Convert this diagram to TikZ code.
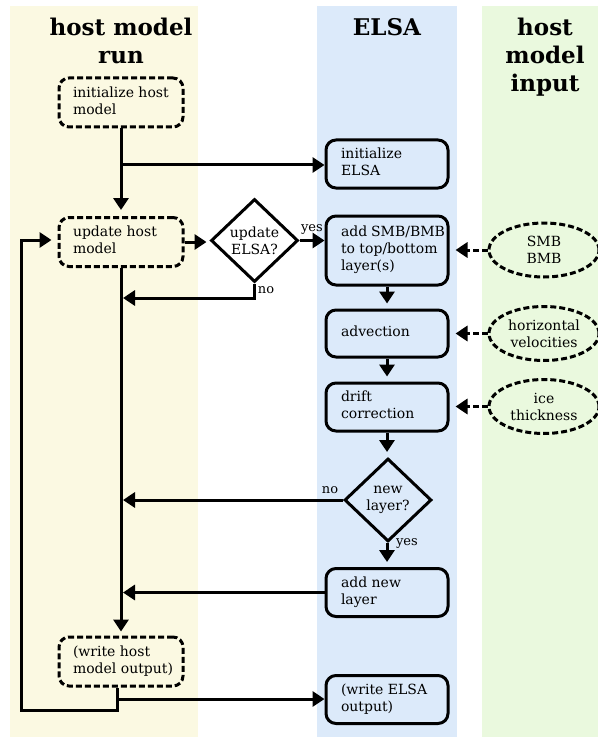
\documentclass[tikz,border=0pt]{standalone}
\usepackage{fontspec}
\setmainfont{DejaVu Serif}
\usetikzlibrary{shapes.geometric,arrows.meta}
\definecolor{bandY}{RGB}{251,249,226}
\definecolor{bandB}{RGB}{220,234,250}
\definecolor{bandG}{RGB}{234,249,222}
\newcommand{\htext}[1]{\begin{tabular}{@{\hspace{14pt}}p{100pt}@{\hspace{10pt}}}#1\end{tabular}}
\newcommand{\etext}[1]{\begin{tabular}{@{\hspace{15pt}}p{104pt}@{\hspace{3pt}}}#1\end{tabular}}
\tikzset{
  bodyfont/.style={font=\fontsize{14}{17}\selectfont},
  hdr/.style={font=\bfseries\fontsize{23}{28}\selectfont, align=center, inner sep=0pt},
  hostbox/.style={draw, dash pattern=on 6pt off 3pt, rounded corners=10pt, line width=3pt,
    minimum height=49pt, inner sep=0pt, fill=bandY, bodyfont},
  elsabox/.style={draw, rounded corners=10pt, line width=3pt,
    minimum height=48pt, inner sep=0pt, fill=bandB, bodyfont},
  decision/.style={diamond, draw, line width=3pt, minimum width=87pt, minimum height=83pt,
    inner sep=0pt, align=center, fill=bandB, bodyfont},
  inputell/.style={ellipse, draw, dash pattern=on 6pt off 3pt, line width=3pt,
    minimum width=110pt, minimum height=54pt, inner sep=0pt, align=center, fill=bandG, bodyfont},
  flow/.style={line width=3pt, -{Triangle[length=12pt,width=15pt]}},
  dflow/.style={flow, dash pattern=on 6pt off 3pt, shorten >=6pt},
  lbl/.style={font=\fontsize{13}{15}\selectfont, inner sep=1pt},
}
\begin{document}
\begin{tikzpicture}[x=1pt,y=-1pt]
\useasboundingbox (0,0) rectangle (597,738);
\fill[bandY] (10,6) rectangle (198,737);
\fill[bandB] (317,6) rectangle (457,737);
\fill[bandG] (482,6) rectangle (600,737);

\node[hdr, anchor=north] (hhost) at (121,18) {host model\\run};
\node[hdr, anchor=north] (helsa) at (387,18) {ELSA};
\node[hdr, anchor=north] (hinput) at (545,18) {host\\model\\input};

\node[hostbox] (hinit) at (121,102.5) {\htext{initialize host\\model}};
\node[hostbox] (hupd) at (121,242) {\htext{update host\\model}};
\node[hostbox] (hout) at (121,661.5) {\htext{(write host\\model output)}};

\node[elsabox] (einit) at (387,164) {\etext{initialize\\ELSA}};
\node[elsabox, minimum height=69pt] (esmb) at (387,250.5) {\etext{add SMB/BMB\\to top/bottom\\layer(s)}};
\node[elsabox, minimum height=47pt] (eadv) at (387,333.5) {\etext{advection}};
\node[elsabox] (edrift) at (387,407) {\etext{drift\\correction}};
\node[decision] (dnew) at (388,500) {new\\layer?};
\node[elsabox] (eadd) at (387,592.5) {\etext{add new\\layer}};
\node[elsabox] (eout) at (387,699.5) {\etext{(write ELSA\\output)}};

\node[decision, fill=white] (dupd) at (254.5,240.5) {update\\ELSA?};

\node[inputell] (ismb) at (544,250) {SMB\\BMB};
\node[inputell] (ivel) at (544,333.5) {horizontal\\velocities};
\node[inputell] (ithk) at (544,406.5) {ice\\thickness};

\coordinate (vx) at (123,0);
\coordinate (br1) at (121,165);
\coordinate (no1) at (254.5,298);
\coordinate (o1) at (117,699);
\coordinate (o2) at (117,710);
\coordinate (o3) at (21,710);
\coordinate (o4) at (21,240);

\draw[flow, shorten >=6pt] (hinit.south) -- (hupd.north);
\draw[flow] (br1) -- (br1 -| einit.west);
\draw[flow, shorten >=3pt] (hupd.east) -- (hupd.east -| dupd.west);
\draw[flow] (dupd.east) -- (dupd.east -| esmb.west)
  node[lbl, midway, above=4pt] (lyes1) {yes};
\draw[flow] (dupd.south) -- (no1) -- (no1 -| vx);
\node[lbl] (lno1) at (266,290) {no};
\draw[flow, shorten >=4pt] (hupd.south) -- (hout.north);

\draw[flow, shorten >=5pt] (esmb.south) -- (eadv.north);
\draw[flow, shorten >=5pt] (eadv.south) -- (edrift.north);
\draw[flow, shorten >=5pt] (edrift.south) -- (edrift.south |- dnew.north);
\draw[flow, shorten >=5pt] (dnew.south -| edrift.south) -- (eadd.north);
\node[lbl] (lyes2) at (407,543) {yes};
\draw[flow] (dnew.west) -- (dnew.west -| vx);
\node[lbl] (lno2) at (330,490) {no};
\draw[flow] (eadd.west) -- (eadd.west -| vx);

\draw[flow, shorten >=6pt] (hout.south -| o2) -- (o2) -- (o3) -- (o4) -- (o4 -| hupd.west);
\draw[flow] (o1) -- (o1 -| eout.west);

\draw[dflow] (ismb.west) -- (ismb.west -| esmb.east);
\draw[dflow] (ivel.west) -- (eadv.east);
\draw[dflow] (ithk.west) -- (ithk.west -| edrift.east);
\end{tikzpicture}
\end{document}
